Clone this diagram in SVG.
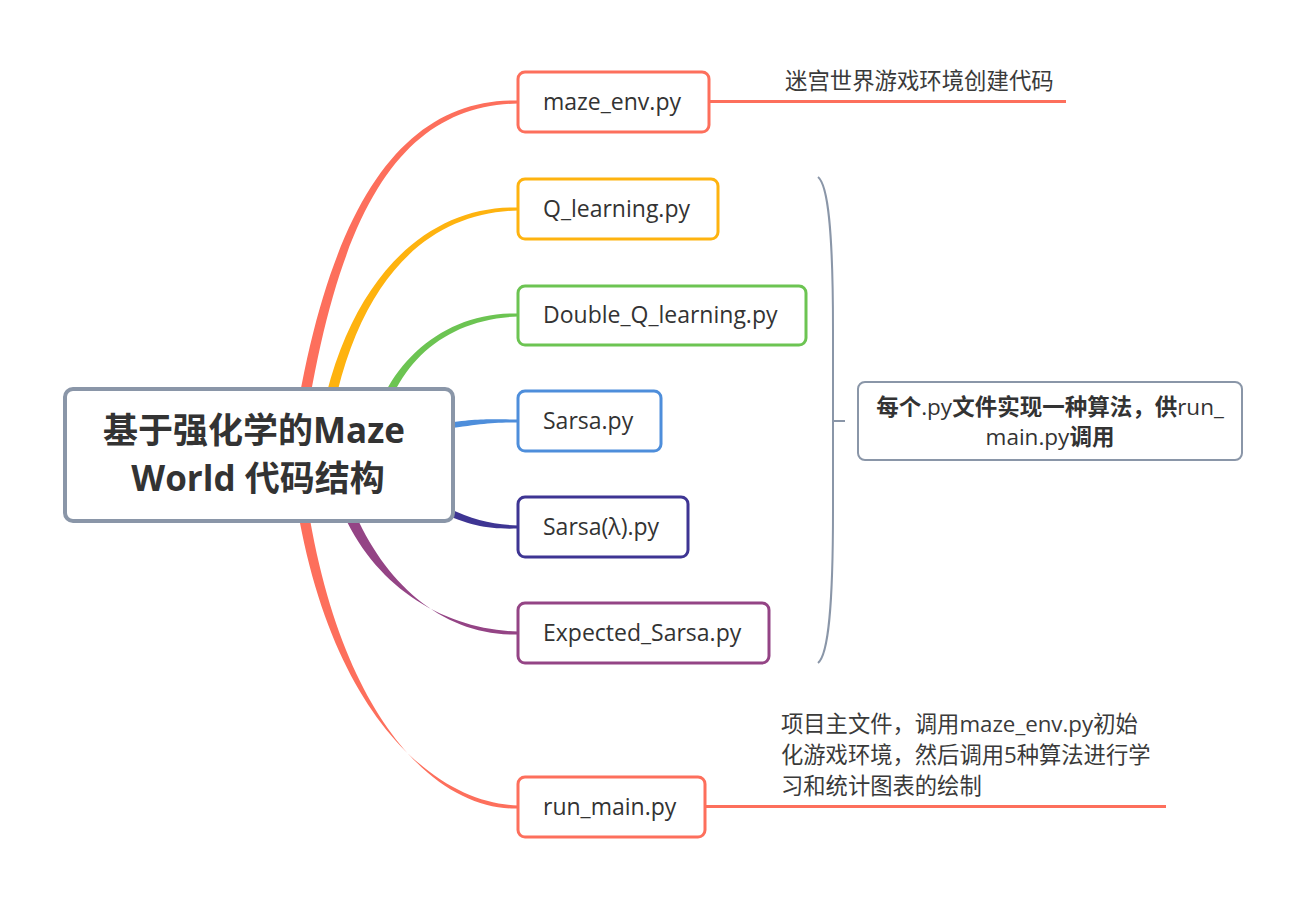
<svg xmlns="http://www.w3.org/2000/svg" width="1305" height="901" viewBox="0 0 1305 901">
<style>
text{font-family:"Open Sans","Noto Sans CJK SC",sans-serif;fill:#333}
.node{fill:#fff;stroke-width:3}
.lbl{font-size:23px}
.note{font-size:22.3px;fill:#3a3a3a}
.b{font-weight:bold}
</style>
<rect width="1305" height="901" fill="#fff"/>
<g id="connectors">
<path d="M289.5 460 C324.5 200 405 98 518 100.5 L518 103.5 C405 106 335.5 200 300.5 460 Z" fill="#fd6f5c"/>
<path d="M314.5 460 C334.5 290 420 205 518 207.5 L518 210.5 C420 213 345.5 290 325.5 460 Z" fill="#feb30f"/>
<path d="M370 440 C380 370 440 311 518 313.5 L518 316.5 C440 319 390 370 380 440 Z" fill="#6cc452"/>
<path d="M440 424 C480 418 490 419.5 518 419.5 L518 422.5 C490 422.5 480 424 440 430 Z" fill="#4e8edb"/>
<path d="M441 504.5 C470 519 490 524.5 518 525.5 L518 528.5 C490 529.5 470 526 439 511.5 Z" fill="#3e3593"/>
<path d="M334 490 C364 582 440 629.5 518 631.5 L518 634.5 C440 636.5 376 578 346 490 Z" fill="#944485"/>
<path d="M289.5 450 C314.5 700 428 803 518 805.5 L518 808.5 C428 811 325.5 700 300.5 450 Z" fill="#fd6f5c"/>
<path d="M709 101.5 H1066" stroke="#fd6f5c" stroke-width="3" fill="none"/>
<path d="M705 806.5 H1166" stroke="#fd6f5c" stroke-width="3" fill="none"/>
<path d="M818 177 C828 185 833 230 833 330 L833 510 C833 610 828 655 818 663 M833 421 H845" stroke="#8a96a8" stroke-width="2" fill="none"/>
</g>
<g id="root">
<rect x="65" y="389" width="388" height="132" rx="8" class="node" stroke="#8a96a8" style="stroke-width:4"/>
<text x="254" y="443" text-anchor="middle" font-size="35" class="b">基于强化学的Maze</text>
<text x="258" y="491" text-anchor="middle" font-size="35" class="b">World 代码结构</text>
</g>
<g id="maze_env">
<rect x="518" y="72" width="191" height="60" rx="7" class="node" stroke="#fd6f5c"/>
<text x="543" y="110" class="lbl">maze_env.py</text>
</g>
<g id="q_learning">
<rect x="518" y="179" width="200" height="60" rx="7" class="node" stroke="#feb30f"/>
<text x="543" y="217" class="lbl">Q_learning.py</text>
</g>
<g id="double_q">
<rect x="518" y="286" width="288" height="59" rx="7" class="node" stroke="#6cc452"/>
<text x="543" y="323" class="lbl">Double_Q_learning.py</text>
</g>
<g id="sarsa">
<rect x="518" y="391" width="143" height="60" rx="7" class="node" stroke="#4e8edb"/>
<text x="543" y="429" class="lbl">Sarsa.py</text>
</g>
<g id="sarsa_lambda">
<rect x="518" y="497" width="170" height="60" rx="7" class="node" stroke="#3e3593"/>
<text x="543" y="535" class="lbl">Sarsa(λ).py</text>
</g>
<g id="expected_sarsa">
<rect x="518" y="603" width="251" height="60" rx="7" class="node" stroke="#944485"/>
<text x="543" y="641" class="lbl">Expected_Sarsa.py</text>
</g>
<g id="run_main">
<rect x="518" y="777" width="187" height="60" rx="7" class="node" stroke="#fd6f5c"/>
<text x="543" y="815" class="lbl">run_main.py</text>
</g>
<g id="maze_env_note">
<text x="785" y="89" class="note" style="font-size:22.4px">迷宫世界游戏环境创建代码</text>
</g>
<g id="run_main_note">
<text x="781" y="732" class="note">项目主文件，调用maze_env.py初始</text>
<text x="781" y="763" class="note">化游戏环境，然后调用5种算法进行学</text>
<text x="781" y="794" class="note">习和统计图表的绘制</text>
</g>
<g id="summary">
<rect x="858" y="382" width="384" height="78" rx="7" class="node" stroke="#8a96a8" style="stroke-width:2"/>
<text x="1050" y="415" text-anchor="middle" font-size="22.5"><tspan class="b">每个</tspan>.py<tspan class="b">文件实现一种算法，供</tspan>run_</text>
<text x="1050" y="445" text-anchor="middle" font-size="22.5">main.py<tspan class="b">调用</tspan></text>
</g>
</svg>
